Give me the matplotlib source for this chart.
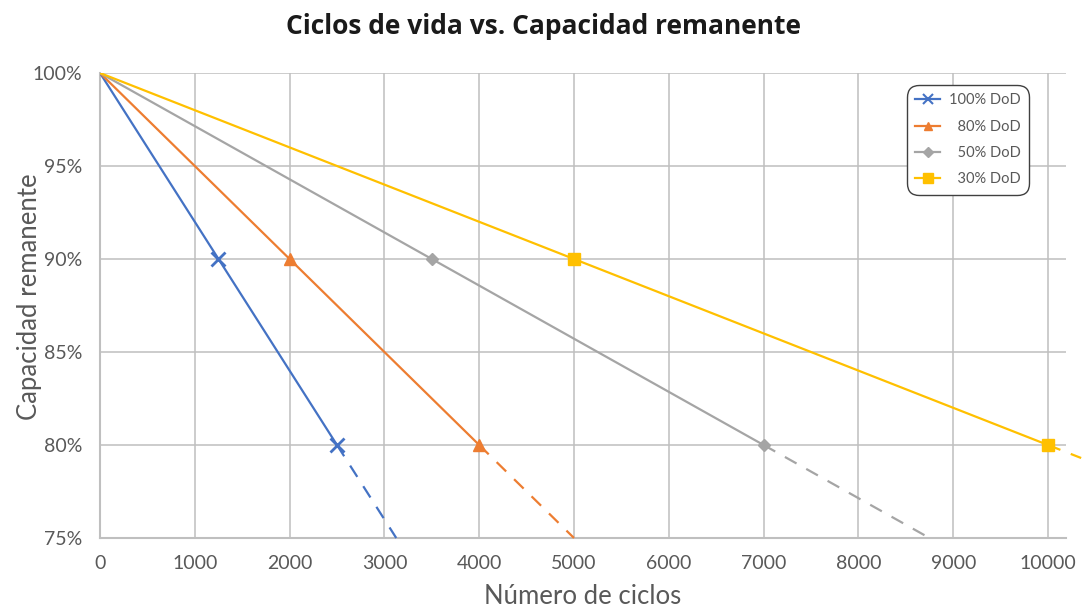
import matplotlib.pyplot as plt
from matplotlib.ticker import FuncFormatter

# data
labels = ['100% DoD', '\u200780% DoD', '\u200750% DoD', '\u200730% DoD']
colors = ['#4472C4', '#ED7D31', '#A5A5A5', '#FFC000']
markers = ['x', '^', 'D', 's']
msizes = [10, 8, 6, 8]
capacity = [100, 90, 80]
cycles_100 = [0, 1250, 2500]
cycles_80 = [0, 2000, 4000]
cycles_50 = [0, 3500, 7000]
cycles_30 = [0, 5000, 10000]
# dashed extrapolation beyond 80%
ext_100 = ([2500, 3125], [80, 75])
ext_80 = ([4000, 5000], [80, 75])
ext_50 = ([7000, 8750], [80, 75])
ext_30 = ([10000, 10350], [80, 79.3])

series = [cycles_100, cycles_80, cycles_50, cycles_30]
exts = [ext_100, ext_80, ext_50, ext_30]

plt.rcParams['font.family'] = ['Lato', 'DejaVu Sans']
txt = '#595959'

fig = plt.figure(figsize=(10.88, 6.07), dpi=100)
ax = fig.add_axes([100/1088, 1 - 538/607, (1066 - 100)/1088, (538 - 73)/607])

for cyc, ext, c, m, ms, lab in zip(series, exts, colors, markers, msizes, labels):
    mew = 2 if m == 'x' else 1
    ax.plot(cyc, capacity, color=c, lw=1.6, marker=m, ms=ms, markevery=[1, 2],
            mew=mew, label=lab, zorder=3)
    ax.plot(ext[0], ext[1], color=c, lw=1.6, ls=(0, (6, 5)), zorder=3, clip_on=False)

ax.set_xlim(0, 10190)
ax.set_ylim(75, 100)
ax.set_xticks(range(0, 10001, 1000))
ax.set_yticks(range(75, 101, 5))
ax.yaxis.set_major_formatter(FuncFormatter(lambda v, p: f'{v:.0f}%'))
ax.grid(True, color='#BFBFBF', lw=1.1)
ax.set_axisbelow(True)
for s in ['top', 'right']:
    ax.spines[s].set_visible(False)
for s in ['left', 'bottom']:
    ax.spines[s].set_color('#BFBFBF')
    ax.spines[s].set_linewidth(1.5)
ax.tick_params(length=0, labelsize=14, labelcolor=txt)
ax.tick_params(axis='y', pad=13)
ax.tick_params(axis='x', pad=12)

ax.set_xlabel('Número de ciclos', fontsize=18.5, color=txt, va='center')
ax.set_ylabel('Capacidad remanente', fontsize=18.5, color=txt, va='center')
ax.xaxis.set_label_coords(0.5, (538 - 596) / 465)
ax.yaxis.set_label_coords((30 - 100) / 966, 0.52)
fig.text(0.5, 1 - 27/607, 'Ciclos de vida vs. Capacidad remanente', ha='center', va='center',
         fontsize=19, fontweight='bold', color='#1a1a1a', family=['Open Sans', 'DejaVu Sans'])

leg = ax.legend(loc='upper right', bbox_to_anchor=(1036/1088, 1 - 78/607),
                bbox_transform=fig.transFigure, fontsize=10.5, frameon=True,
                fancybox=True, edgecolor='#404040', labelspacing=0.85,
                handlelength=1.7, handletextpad=0.6, borderpad=0.55, framealpha=1)
leg.get_frame().set_linewidth(1.0)
leg.get_frame().set_boxstyle('round,pad=0,rounding_size=0.8')
for h, ms in zip(leg.legend_handles, [7, 6, 5, 7]):
    h.set_markersize(ms)
    h.set_markeredgewidth(1.5 if h.get_marker() == 'x' else 1)
for t in leg.get_texts():
    t.set_color(txt)

fig.savefig('out.png', dpi=100)
